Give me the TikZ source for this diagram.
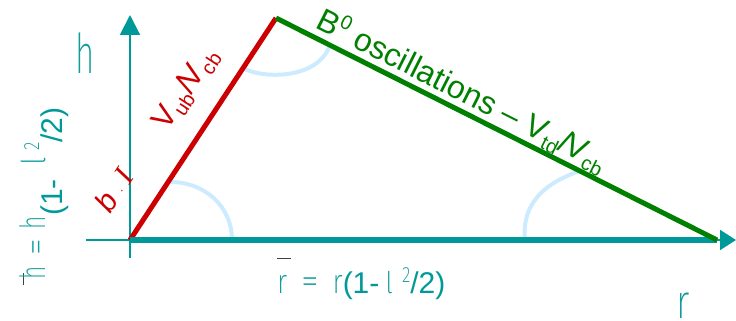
\documentclass[tikz,border=0pt]{standalone}
\usepackage{fontspec}
\setmainfont{Liberation Sans}
\newfontfamily\seriffont{Liberation Serif}
\def\thinname{Liberation Sans}
\IfFontExistsTF{Lato Hairline}{\def\thinname{Lato Hairline}}{}
\IfFontExistsTF{Fira Sans Thin}{\def\thinname{Fira Sans Thin}}{}
\IfFontExistsTF{Lato Light}{\def\thinname{Lato Light}}{}
\IfFontExistsTF{Fira Sans Light}{\def\thinname{Fira Sans Light}}{}
\IfFontExistsTF{Fira Sans ExtraLight}{\def\thinname{Fira Sans ExtraLight}}{}
\newfontfamily\thinfont{\thinname}
\usepackage{graphicx}
\usetikzlibrary{arrows.meta}
\definecolor{axisteal}{HTML}{009999}
\definecolor{thinteal}{HTML}{109C9C}
\definecolor{sidered}{HTML}{CC0000}
\definecolor{sidegreen}{HTML}{008000}
\definecolor{arcblue}{HTML}{CCEBFF}
\newcommand{\thinch}[3]{\scalebox{#2}[1]{\fontsize{#1}{#1}\normalfont\thinfont\color{thinteal}#3}}
\newcommand{\sizedtext}[2]{{\fontsize{#1}{#1}\selectfont #2}}
\begin{document}
\begin{tikzpicture}[x=1pt,y=-1pt,
  axisline/.style={draw=axisteal, line width=2pt},
  sideline/.style={line width=5pt},
  anglearc/.style={draw=arcblue, line width=4pt},
  lab/.style={inner sep=0pt, outer sep=0pt}]
\useasboundingbox (0,0) rectangle (736,321);
% vertices
\coordinate (O) at (130,240);
\coordinate (A) at (276,18);
\coordinate (R) at (717,240);
% axis ends
\coordinate (vb) at (130,258);
\coordinate (vt) at (130,15);
\coordinate (hl) at (86,240);
\coordinate (hr) at (736,240);
% angle arcs
\draw[anglearc] (232,240) .. controls (232,206) and (204,181) .. (168,182);
\draw[anglearc] (243,68) .. controls (262,79) and (318,80) .. (330,45);
\draw[anglearc] (525,240) .. controls (521,200) and (550,181) .. (580,171);
% axes
\draw[axisline, -{Triangle[length=20pt,width=20pt]}] (vb) -- (vt);
\draw[axisline, -{Triangle[length=16pt,width=20pt]}] (hl) -- (hr);
% triangle sides
\draw[sideline, draw=sidered] (O) -- (A);
\draw[sideline, draw=axisteal, line width=5.5pt] (O) -- (R);
\draw[sideline, draw=sidegreen] (A) -- (R);
% labels
\node[lab, anchor=base west] (etalab) at (75,74) {\thinch{55}{0.6}{h}};
\node[lab, anchor=base west] (rholab) at (676,318) {\thinch{48}{0.75}{r}};
\node[lab, anchor=base west] (rhobar) at (277,293) {\fontsize{30}{32}\selectfont\color{axisteal}%
  \rlap{\raisebox{34pt}{\color{black!75}\rule{14pt}{1.3pt}}}%
  \thinch{34}{0.8}{r}\hspace{14pt}\thinch{36}{1}{=}\hspace{14pt}\thinch{34}{0.8}{r}(1-\hspace{6pt}\thinch{30}{0.9}{l}\hspace{9pt}\raisebox{11pt}{\thinch{22}{0.8}{2}}/2)};
\node[lab, anchor=base west, rotate=90] (etabar) at (62,285) {\fontsize{30}{32}\selectfont\color{axisteal}%
  \rlap{\raisebox{38pt}{\color{black!75}\rule{12pt}{1.5pt}}}%
  \hspace{6pt}\raisebox{17pt}{\thinch{35}{0.65}{h}}\hspace{10pt}\raisebox{15pt}{\thinch{34}{1}{=}}\hspace{10pt}\raisebox{17pt}{\thinch{35}{0.65}{h}}(1-\hspace{14pt}\raisebox{17pt}{\thinch{33}{0.9}{l}}\hspace{6pt}\raisebox{23pt}{\thinch{22}{0.8}{2}}/2)};
\node[lab, rotate=56.7, text=sidered] (vublab) at (186,89) {\fontsize{31}{31}\selectfont V\raisebox{-6pt}{\sizedtext{20}{ub}}/\hspace{-2pt}V\raisebox{-6pt}{\sizedtext{20}{cb}}};
\node[lab, rotate=56.7, text=sidered] (betalab) at (114,190) {\fontsize{30}{30}\selectfont\itshape b\hspace{7pt}\sizedtext{12}{·}\hspace{7pt}{\seriffont\itshape I}};
\node[lab, rotate=-26.7, text=sidegreen] (vtdlab) at (462,91) {\fontsize{32}{32}\selectfont B\raisebox{12pt}{\sizedtext{20}{0}} oscillations – V\raisebox{-6pt}{\sizedtext{20}{td}}/\hspace{-2pt}V\raisebox{-6pt}{\sizedtext{20}{cb}}};
\end{tikzpicture}
\end{document}
